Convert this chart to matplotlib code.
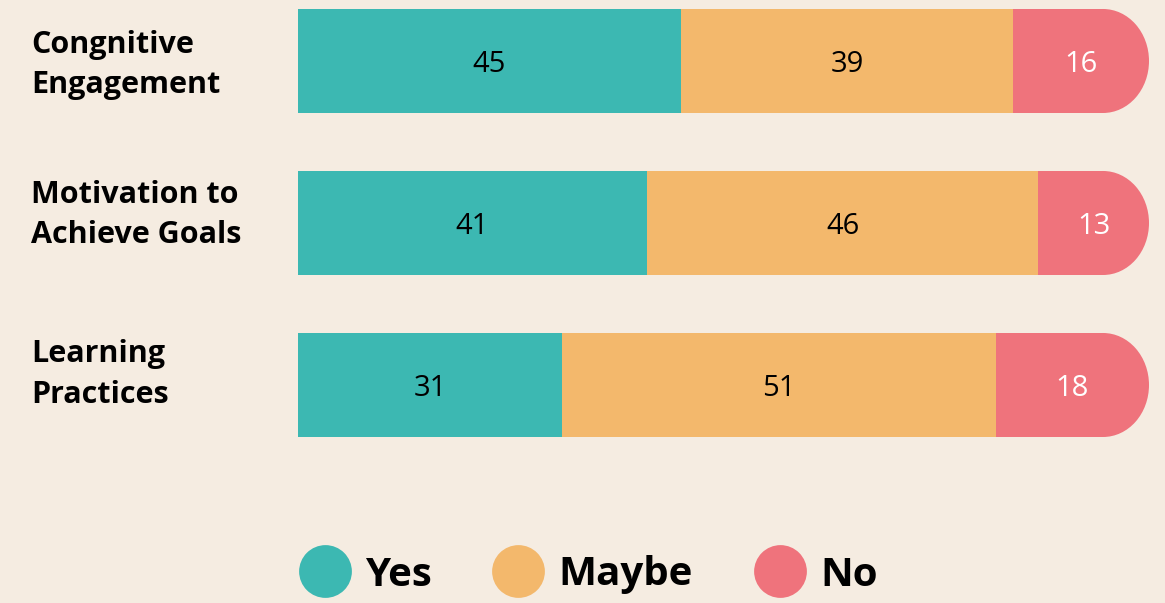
import matplotlib
matplotlib.use("Agg")
import matplotlib.pyplot as plt
from matplotlib.patches import Ellipse
from matplotlib.lines import Line2D

categories = ["Congnitive\nEngagement", "Motivation to\nAchieve Goals", "Learning\nPractices"]
series = ["Yes", "Maybe", "No"]
yes = [45, 41, 31]
maybe = [39, 46, 51]
no = [16, 13, 18]

BG = "#F5ECE1"
COLS = ["#3CB8B2", "#F3B86C", "#EF737C"]
TXT = ["black", "black", "white"]
label_dy = [0.025, -0.05, -0.065]

fig = plt.figure(figsize=(11.65, 6.03), dpi=100)
fig.patch.set_facecolor(BG)
ax = fig.add_axes([298 / 1165, 0, 851 / 1165, 1])
ax.set_facecolor(BG)
ax.set_xlim(0, 100)
ax.set_ylim(3.3457, -0.3765)
ax.axis("off")

h = 0.642
r = 5.4  # rounded end radius, data units
for i, vals in enumerate(zip(yes, maybe, no)):
    left = 0
    for k, v in enumerate(vals):
        if k == 2:
            ax.barh(i, v - r, left=left, height=h, color=COLS[k], lw=0)
            ax.add_patch(Ellipse((left + v - r, i), 2 * r, h, color=COLS[k], lw=0))
        else:
            ax.barh(i, v, left=left, height=h, color=COLS[k], lw=0)
        ax.text(left + v / 2, i, str(v), ha="center", va="center_baseline", fontsize=21,
                color=TXT[k], family="Open Sans")
        left += v
    ax.text(-267 / 8.51, i + label_dy[i], categories[i], ha="left", va="center",
            fontsize=22, fontweight="bold", family="Open Sans", linespacing=1.45,
            clip_on=False)

handles = [Line2D([], [], marker="o", ls="", markersize=38, markerfacecolor=c,
                  markeredgewidth=0) for c in COLS]
fig.legend(handles, series, loc="center", bbox_to_anchor=(588 / 1165, 1 - 575 / 603),
           ncol=3, frameon=False, prop=dict(family="Open Sans", weight="bold", size=29),
           handletextpad=0.35, columnspacing=1.5, handlelength=1.3)

fig.savefig("out.png", dpi=100, facecolor=BG)
